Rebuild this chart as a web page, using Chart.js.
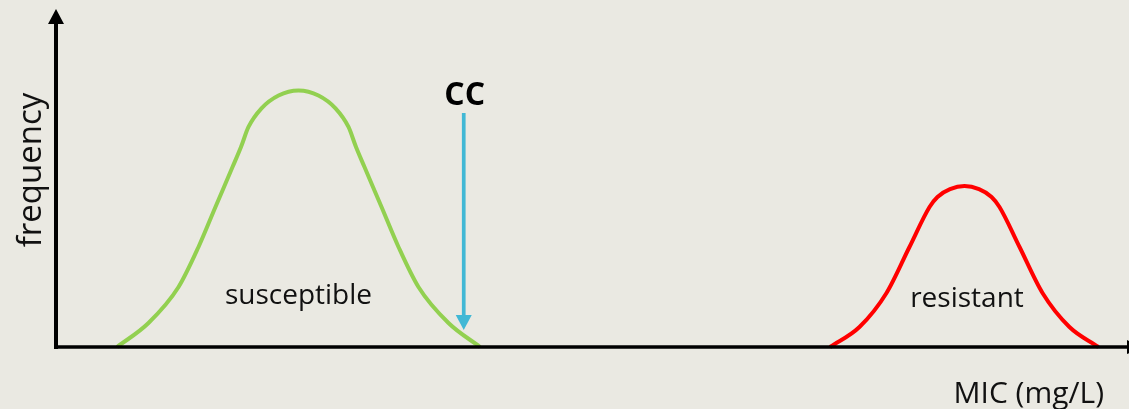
<!DOCTYPE html>
<html>
<head>
<meta charset="utf-8">
<script src="https://cdn.jsdelivr.net/npm/chart.js@4"></script>
<style>
  html, body { margin: 0; padding: 0; background: #EAE9E2; }
  canvas { display: block; }
</style>
</head>
<body>
<canvas id="micChart" width="1129" height="409"></canvas>
<script>
// MIC distribution: susceptible vs resistant populations (x = MIC, y = frequency, arbitrary units 0-100)
const susceptibleX = [5.69, 8.62, 11.42, 13.28, 14.86, 16.45, 17.24, 17.94, 19.15, 20.74, 22.60,
                      24.46, 26.05, 27.26, 27.96, 28.75, 30.34, 31.92, 33.78, 36.58, 39.52];
const susceptibleY = [0, 7.10, 17.75, 29.59, 41.42, 53.25, 59.17, 65.09, 70.6, 74.4, 75.89,
                      74.4, 70.6, 65.09, 59.17, 53.25, 41.42, 29.59, 17.75, 7.10, 0];

const resistantX = [72.13, 74.88, 77.40, 79.54, 81.41, 82.15, 83.32, 84.67, 86.02, 87.19, 87.93, 89.80, 91.94, 94.45, 97.15];
const resistantY = [0, 5.92, 15.98, 29.59, 41.42, 44.4, 46.7, 47.63, 46.7, 44.4, 41.42, 29.59, 15.98, 5.92, 0];

// cut-off marker (CC)
const ccX = 38.0;
const ccTop = 69.2;
const ccTip = 5.0;
const ccLabelY = 71.6;

// in-plot labels
const labels = [
  { text: 'susceptible', x: 22.6, y: 12.7 },
  { text: 'resistant', x: 84.9, y: 11.8 }
];

const FONT = '"Open Sans", "Noto Sans", sans-serif';

const toPoints = (xs, ys) => xs.map((x, i) => ({ x: x, y: ys[i] }));

// axes with arrow heads, CC arrow and text
const decorations = {
  id: 'decorations',
  afterDatasetsDraw(chart) {
    const { ctx, chartArea, scales } = chart;
    const xs = scales.x, ys = scales.y;
    const y0 = ys.getPixelForValue(0);
    const x0 = xs.getPixelForValue(0);

    ctx.save();
    ctx.fillStyle = '#000';
    ctx.strokeStyle = '#000';

    // x axis
    ctx.lineWidth = 3.5;
    ctx.beginPath();
    ctx.moveTo(x0 - 2, y0);
    ctx.lineTo(chart.width, y0);
    ctx.stroke();
    ctx.beginPath();
    ctx.moveTo(chart.width - 2, y0 - 7);
    ctx.lineTo(chart.width + 14, y0);
    ctx.lineTo(chart.width - 2, y0 + 7);
    ctx.closePath();
    ctx.fill();

    // y axis
    ctx.lineWidth = 4;
    ctx.beginPath();
    ctx.moveTo(x0, y0 + 2);
    ctx.lineTo(x0, chartArea.top + 12);
    ctx.stroke();
    ctx.beginPath();
    ctx.moveTo(x0 - 8, chartArea.top + 15);
    ctx.lineTo(x0, chartArea.top);
    ctx.lineTo(x0 + 8, chartArea.top + 15);
    ctx.closePath();
    ctx.fill();

    // CC arrow
    const cx = xs.getPixelForValue(ccX);
    const top = ys.getPixelForValue(ccTop);
    const tip = ys.getPixelForValue(ccTip);
    ctx.strokeStyle = '#41B8D5';
    ctx.fillStyle = '#41B8D5';
    ctx.lineWidth = 3.7;
    ctx.beginPath();
    ctx.moveTo(cx, top);
    ctx.lineTo(cx, tip - 12);
    ctx.stroke();
    ctx.beginPath();
    ctx.moveTo(cx - 8, tip - 15);
    ctx.lineTo(cx + 8, tip - 15);
    ctx.lineTo(cx, tip);
    ctx.closePath();
    ctx.fill();

    // texts
    ctx.fillStyle = '#000';
    ctx.textAlign = 'center';
    ctx.textBaseline = 'alphabetic';
    ctx.font = 'bold 32px ' + FONT;
    ctx.fillText('CC', cx + 1, ys.getPixelForValue(ccLabelY));

    ctx.fillStyle = '#111';
    ctx.font = '28px ' + FONT;
    labels.forEach(l => ctx.fillText(l.text, xs.getPixelForValue(l.x), ys.getPixelForValue(l.y)));

    ctx.font = '30px ' + FONT;
    ctx.textAlign = 'right';
    ctx.fillText('MIC (mg/L)', 1104, 403);

    ctx.translate(41, 170);
    ctx.rotate(-Math.PI / 2);
    ctx.textAlign = 'center';
    ctx.font = '33px ' + FONT;
    ctx.fillText('frequency', 0, 0);
    ctx.restore();
  }
};

new Chart(document.getElementById('micChart').getContext('2d'), {
  type: 'line',
  data: {
    datasets: [
      { label: 'susceptible', data: toPoints(susceptibleX, susceptibleY), borderColor: '#92D050', borderWidth: 4, pointRadius: 0, cubicInterpolationMode: 'monotone', clip: false },
      { label: 'resistant', data: toPoints(resistantX, resistantY), borderColor: '#FF0000', borderWidth: 4, pointRadius: 0, cubicInterpolationMode: 'monotone', clip: false }
    ]
  },
  options: {
    responsive: false,
    animation: false,
    layout: { padding: { left: 56, top: 9, right: 0, bottom: 62 } },
    plugins: { legend: { display: false }, tooltip: { enabled: false } },
    scales: {
      x: { type: 'linear', min: 0, max: 100, display: false },
      y: { min: 0, max: 100, display: false }
    }
  },
  plugins: [decorations]
});
</script>
</body>
</html>
